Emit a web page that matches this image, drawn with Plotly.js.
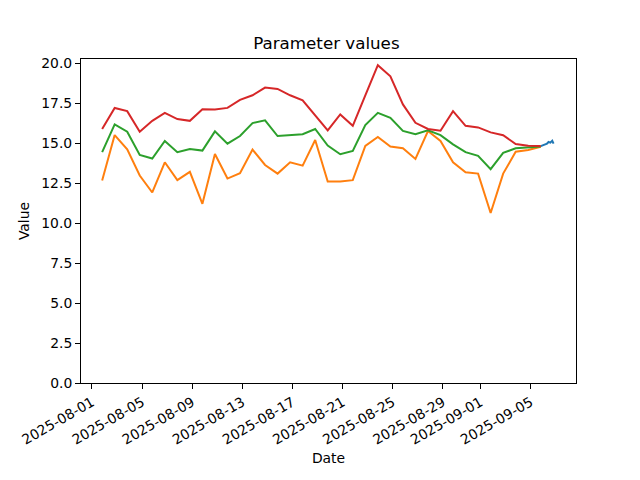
<!DOCTYPE html>
<html>
<head>
<meta charset="utf-8">
<script src="https://cdn.plot.ly/plotly-3.0.1.min.js"></script>
<style>html,body{margin:0;padding:0;background:#fff;}#chart{width:640px;height:480px;}</style>
</head>
<body>
<div id="chart"></div>
<script>
const dates = [
  "2025-08-01 19:30","2025-08-02 19:30","2025-08-03 19:30","2025-08-04 19:30","2025-08-05 19:30","2025-08-06 19:30",
  "2025-08-07 19:30","2025-08-08 19:30","2025-08-09 19:30","2025-08-10 19:30","2025-08-11 19:30","2025-08-12 19:30",
  "2025-08-13 19:30","2025-08-14 19:30","2025-08-15 19:30","2025-08-16 19:30","2025-08-17 19:30","2025-08-18 19:30",
  "2025-08-19 19:30","2025-08-20 19:30","2025-08-21 19:30","2025-08-22 19:30","2025-08-23 19:30","2025-08-24 19:30",
  "2025-08-25 19:30","2025-08-26 19:30","2025-08-27 19:30","2025-08-28 19:30","2025-08-29 19:30","2025-08-30 19:30",
  "2025-08-31 19:30","2025-09-01 19:30","2025-09-02 19:30","2025-09-03 19:30","2025-09-04 19:30","2025-09-05 19:30"
];
const maxValues = [15.89,17.21,17.01,15.72,16.40,16.90,16.51,16.40,17.12,17.11,17.21,17.71,
  18.00,18.48,18.40,18.00,17.69,16.76,15.81,16.80,16.09,18.00,19.88,19.19,
  17.43,16.28,15.89,15.78,17.01,16.09,15.99,15.68,15.50,14.95,14.85,14.83];
const meanValues = [14.44,16.18,15.72,14.27,14.04,15.14,14.44,14.64,14.54,15.74,14.97,15.45,
  16.26,16.43,15.45,15.49,15.56,15.89,14.85,14.31,14.52,16.14,16.90,16.59,
  15.77,15.56,15.81,15.51,14.93,14.44,14.21,13.38,14.40,14.68,14.72,14.80];
const minValues = [12.67,15.51,14.62,12.98,11.92,13.81,12.69,13.21,11.21,14.33,12.79,13.12,
  14.60,13.64,13.10,13.81,13.60,15.20,12.60,12.60,12.69,14.83,15.39,14.79,
  14.69,14.02,15.76,15.14,13.81,13.19,13.10,10.64,13.10,14.47,14.58,14.78];
const recentDates = ["2025-09-05 19:30","2025-09-06 01:30","2025-09-06 07:30","2025-09-06 10:30",
  "2025-09-06 14:00","2025-09-06 17:30","2025-09-06 20:00"];
const recentValues = [14.82,14.90,14.98,15.08,15.04,15.16,14.98];
const xTicks = ["2025-08-01","2025-08-05","2025-08-09","2025-08-13","2025-08-17","2025-08-21",
  "2025-08-25","2025-08-29","2025-09-01","2025-09-05"];
const yTicks = [0,2.5,5,7.5,10,12.5,15,17.5,20];

const font = "DejaVu Sans, sans-serif";
const traces = [
  {x: recentDates, y: recentValues, mode: "lines", line: {color: "#1f77b4", width: 2}},
  {x: dates, y: minValues, mode: "lines", line: {color: "#ff7f0e", width: 2}},
  {x: dates, y: meanValues, mode: "lines", line: {color: "#2ca02c", width: 2}},
  {x: dates, y: maxValues, mode: "lines", line: {color: "#d62728", width: 2}}
];
const layout = {
  width: 640, height: 480,
  margin: {l: 81, r: 64, t: 59, b: 97},
  paper_bgcolor: "#fff", plot_bgcolor: "#fff",
  showlegend: false,
  font: {family: font, size: 14, color: "#000"},
  title: {text: "Parameter values", font: {family: font, size: 16.7, color: "#000"}, x: 0.51, xanchor: "center", y: 0.91, yanchor: "middle"},
  xaxis: {
    type: "date",
    range: ["2025-07-31 03:00", "2025-09-08 15:00"],
    tickvals: xTicks, ticktext: xTicks,
    tickangle: -30,
    ticks: "outside", ticklen: 5, tickwidth: 1, tickcolor: "#000",
    showline: true, linecolor: "#000", linewidth: 1, mirror: true,
    showgrid: false, zeroline: false,
    tickfont: {family: font, size: 13.9, color: "#000"},
    title: {text: "Date", font: {family: font, size: 13.9, color: "#000"}, standoff: 6}
  },
  yaxis: {
    range: [0, 20.27],
    tickvals: yTicks, ticktext: yTicks.map(v => v.toFixed(1)),
    ticks: "outside", ticklen: 5, tickwidth: 1, tickcolor: "#000",
    showline: true, linecolor: "#000", linewidth: 1, mirror: true,
    showgrid: false, zeroline: false,
    tickfont: {family: font, size: 13.9, color: "#000"},
    title: {text: "Value", font: {family: font, size: 13.9, color: "#000"}, standoff: 8}
  }
};
Plotly.newPlot("chart", traces, layout, {displayModeBar: false, staticPlot: true});
</script>
</body>
</html>
